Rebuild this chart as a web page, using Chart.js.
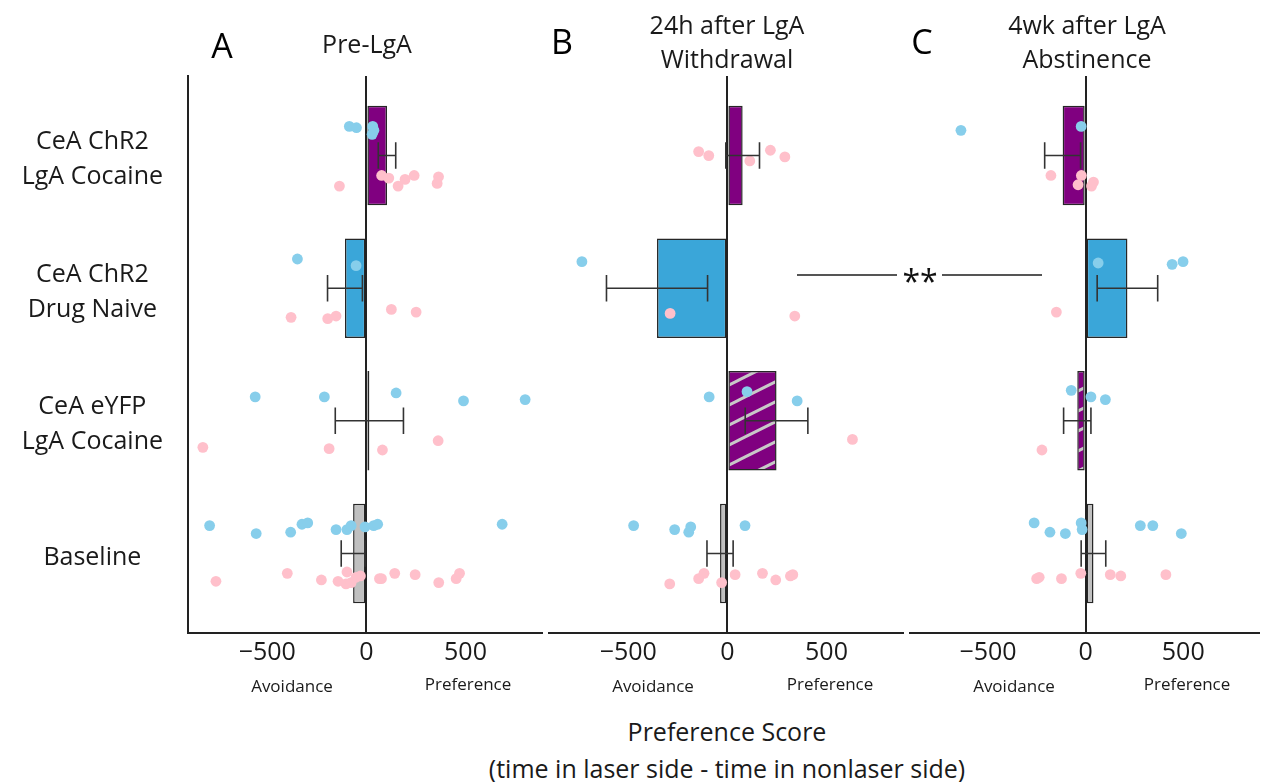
<!DOCTYPE html>
<html>
<head>
<meta charset="utf-8">
<script src="https://cdn.jsdelivr.net/npm/chart.js@4.4.0/dist/chart.umd.min.js"></script>
<style>
body { margin: 0; background: #fff; width: 1264px; height: 782px; overflow: hidden; position: relative; font-family: "Open Sans", sans-serif; color: #1a1a1a; }
canvas { position: absolute; top: 0; }
.t { position: absolute; transform: translate(-50%, -50%); white-space: nowrap; line-height: 1; }
.ln { position: absolute; height: 2px; background: #555; }
</style>
</head>
<body>
<canvas id="cA" width="552" height="700" style="left:0"></canvas>
<canvas id="cB" width="374" height="700" style="left:539px"></canvas>
<canvas id="cC" width="364" height="700" style="left:900px"></canvas>

<div class="t" style="left:222px;top:45px;font-size:34px;color:#000">A</div>
<div class="t" style="left:367px;top:43px;font-size:25px">Pre-LgA</div>
<div class="t" style="left:562px;top:41px;font-size:34px;color:#000">B</div>
<div class="t" style="left:727px;top:24px;font-size:25px">24h after LgA</div>
<div class="t" style="left:727px;top:58px;font-size:25px">Withdrawal</div>
<div class="t" style="left:922px;top:41px;font-size:34px;color:#000">C</div>
<div class="t" style="left:1087px;top:24px;font-size:25px">4wk after LgA</div>
<div class="t" style="left:1087px;top:58px;font-size:25px">Abstinence</div>

<div class="t" style="left:292px;top:685px;font-size:17px">Avoidance</div>
<div class="t" style="left:468px;top:683px;font-size:17px">Preference</div>
<div class="t" style="left:653px;top:685px;font-size:17px">Avoidance</div>
<div class="t" style="left:830px;top:683px;font-size:17px">Preference</div>
<div class="t" style="left:1014px;top:685px;font-size:17px">Avoidance</div>
<div class="t" style="left:1187px;top:683px;font-size:17px">Preference</div>

<div class="t" style="left:727px;top:731px;font-size:25px">Preference Score</div>
<div class="t" style="left:727px;top:768px;font-size:25px">(time in laser side - time in nonlaser side)</div>

<div class="ln" style="left:797px;width:100px;top:274px"></div>
<div class="ln" style="left:942px;width:100px;top:274px"></div>
<div class="t" style="left:920px;top:281px;font-size:32px;color:#111">**</div>

<script>
// row labels (top to bottom)
const rowLabels = [['CeA ChR2', 'LgA Cocaine'], ['CeA ChR2', 'Drug Naive'], ['CeA eYFP', 'LgA Cocaine'], 'Baseline'];
const xTicks = [-500, 0, 500];

// Pre-LgA
const meanA = [104, -108, 15, -67];
const semA = [44, 88, 172, 60];
const blueA = [
  [-86, -0.22], [-50, -0.21], [32, -0.22], [38, -0.19], [29, -0.16],
  [-348, 0.78], [-52, 0.83],
  [-561, 1.82], [-212, 1.82], [150, 1.79], [490, 1.85], [801, 1.84],
  [-791, 2.79], [-556, 2.85], [-382, 2.84], [-325, 2.78], [-296, 2.77], [-153, 2.82],
  [-98, 2.82], [-77, 2.79], [-7, 2.80], [37, 2.79], [57, 2.78], [685, 2.78]
];
const pinkA = [
  [77, 0.15], [113, 0.17], [195, 0.18], [241, 0.15], [364, 0.16], [357, 0.21], [160, 0.23], [-136, 0.23],
  [-380, 1.22], [-195, 1.23], [-153, 1.21], [126, 1.16], [251, 1.18],
  [-825, 2.20], [-188, 2.21], [81, 2.22], [362, 2.15],
  [-759, 3.21], [-399, 3.15], [-227, 3.20], [-143, 3.21], [-103, 3.23], [-98, 3.14], [-77, 3.22],
  [-52, 3.18], [-30, 3.17], [66, 3.19], [76, 3.19], [143, 3.15], [246, 3.16], [365, 3.22], [453, 3.19], [470, 3.15]
];

// 24h after LgA
const meanB = [77, -355, 248, -37];
const semB = [85, 255, 158, 66];
const blueB = [
  [-734, 0.80],
  [-92, 1.82], [99, 1.78], [352, 1.85],
  [-473, 2.79], [-266, 2.82], [-195, 2.84], [-185, 2.80], [89, 2.79]
];
const pinkB = [
  [-145, -0.03], [-94, 0.0], [113, 0.04], [217, -0.04], [290, 0.01],
  [-289, 1.19], [340, 1.21],
  [631, 2.14],
  [-291, 3.23], [-145, 3.19], [-118, 3.15], [-29, 3.22], [39, 3.16], [177, 3.15], [244, 3.20], [318, 3.17], [330, 3.16]
];

// 4wk after LgA
const meanC = [-118, 214, -43, 40];
const semC = [92, 155, 70, 63];
const blueC = [
  [-639, -0.19], [-23, -0.22],
  [64, 0.81], [443, 0.82], [499, 0.80],
  [-74, 1.77], [27, 1.82], [101, 1.84],
  [-264, 2.77], [-183, 2.84], [-104, 2.85], [-23, 2.77], [-18, 2.82], [280, 2.79], [344, 2.79], [490, 2.85]
];
const pinkC = [
  [-178, 0.15], [-22, 0.15], [-39, 0.22], [30, 0.23], [40, 0.20],
  [-150, 1.18],
  [-224, 2.22],
  [-251, 3.19], [-238, 3.18], [-124, 3.19], [-25, 3.15], [126, 3.16], [180, 3.17], [411, 3.16]
];

const PURPLE = '#800080', BLUE = '#3aa6d9', GREY = '#c0c0c0';
const FONT = '"Open Sans", sans-serif';

function hatch(ctx) {
  const c = document.createElement('canvas');
  c.width = 40; c.height = 20;
  const g = c.getContext('2d');
  g.fillStyle = PURPLE;
  g.fillRect(0, 0, 40, 20);
  g.strokeStyle = '#c8c8c8';
  g.lineWidth = 3;
  g.beginPath();
  g.moveTo(-4, 22); g.lineTo(44, -2);
  g.moveTo(-4, 2); g.lineTo(4, -2);
  g.moveTo(36, 22); g.lineTo(44, 18);
  g.stroke();
  return ctx.createPattern(c, 'repeat');
}

// error bars drawn on top of bars and dots
const errBars = {
  id: 'errBars',
  afterDatasetsDraw(chart, args, o) {
    const { ctx, scales: { x, y } } = chart;
    ctx.save();
    ctx.strokeStyle = '#333';
    ctx.lineWidth = 1.6;
    o.mean.forEach((m, i) => {
      const x0 = x.getPixelForValue(m - o.sem[i]), x1 = x.getPixelForValue(m + o.sem[i]);
      const yc = y.getPixelForValue(i), y0 = y.getPixelForValue(i - 0.1), y1 = y.getPixelForValue(i + 0.1);
      ctx.beginPath();
      ctx.moveTo(x0, yc); ctx.lineTo(x1, yc);
      ctx.moveTo(x0, y0); ctx.lineTo(x0, y1);
      ctx.moveTo(x1, y0); ctx.lineTo(x1, y1);
      ctx.stroke();
    });
    ctx.restore();
  }
};

function makePanel(id, mean, sem, blue, pink, showY, padL, padR) {
  const canvas = document.getElementById(id);
  const ctx = canvas.getContext('2d');
  const colors = [PURPLE, BLUE, hatch(ctx), GREY];
  return new Chart(canvas, {
    type: 'bar',
    data: {
      datasets: [
        {
          type: 'bar',
          data: mean.map((v, i) => ({ x: v, y: i })),
          backgroundColor: colors,
          borderColor: '#262626',
          borderWidth: 1.5,
          borderSkipped: false,
          barPercentage: 1,
          categoryPercentage: 0.75,
          order: 2
        },
        {
          type: 'scatter',
          data: blue.map(p => ({ x: p[0], y: p[1] })),
          backgroundColor: '#87ceeb',
          pointRadius: 5.4,
          pointBorderWidth: 0,
          order: 1
        },
        {
          type: 'scatter',
          data: pink.map(p => ({ x: p[0], y: p[1] })),
          backgroundColor: '#ffc0cb',
          pointRadius: 5.4,
          pointBorderWidth: 0,
          order: 1
        }
      ]
    },
    options: {
      indexAxis: 'y',
      responsive: false,
      animation: false,
      devicePixelRatio: 1,
      layout: { padding: { top: 76, bottom: 27, left: padL, right: padR } },
      plugins: {
        legend: { display: false },
        tooltip: { enabled: false },
        errBars: { mean: mean, sem: sem }
      },
      scales: {
        x: {
          type: 'linear',
          min: -900,
          max: 886,
          afterBuildTicks: a => { a.ticks = xTicks.map(v => ({ value: v })); },
          afterFit: a => { a.height = 40; },
          grid: {
            drawTicks: false,
            lineWidth: 2,
            color: c => (c.tick && c.tick.value === 0) ? '#222' : 'rgba(0,0,0,0)'
          },
          border: { display: true, color: '#222', width: 2 },
          ticks: {
            padding: 5,
            color: '#1a1a1a',
            font: { family: FONT, size: 25 },
            callback: v => v < 0 ? '\u2212' + (-v) : String(v)
          }
        },
        y: {
          type: 'linear',
          reverse: true,
          offset: false,
          min: -0.6,
          max: 3.6,
          display: showY,
          afterBuildTicks: a => { a.ticks = [0, 1, 2, 3].map(v => ({ value: v })); },
          afterFit: a => { a.width = showY ? 188 : 0; },
          grid: { display: false, drawTicks: false },
          border: { display: true, color: '#222', width: 2 },
          ticks: {
            autoSkip: false,
            crossAlign: 'center',
            padding: 25,
            labelOffset: 4,
            color: '#1a1a1a',
            font: { family: FONT, size: 25, lineHeight: 1.4 },
            callback: v => rowLabels[v]
          }
        }
      }
    },
    plugins: [errBars]
  });
}

makePanel('cA', meanA, semA, blueA, pinkA, true, 0, 10);
makePanel('cB', meanB, semB, blueB, pinkB, false, 10, 10);
makePanel('cC', meanC, semC, blueC, pinkC, false, 10, 2);
</script>
</body>
</html>
